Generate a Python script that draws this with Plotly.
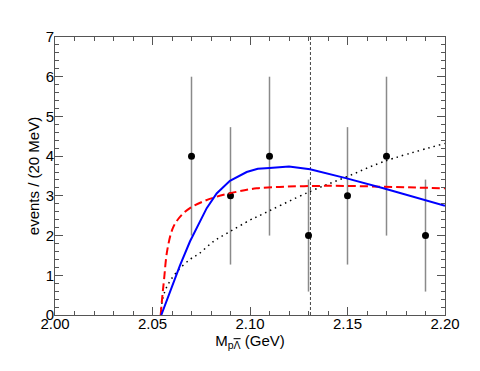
import plotly.graph_objects as go

# Data points (bin centers, counts, errors)
mass = [2.07, 2.09, 2.11, 2.13, 2.15, 2.17, 2.19]
counts = [4, 3, 4, 2, 3, 4, 2]
errors = [2.0, 1.73, 2.0, 1.41, 1.73, 2.0, 1.41]

# Red dashed curve
red_x = [2.0542, 2.0550, 2.0559, 2.0576, 2.0607, 2.0650, 2.0692, 2.0760, 2.083, 2.093, 2.1034, 2.118, 2.1342, 2.150, 2.1684, 2.185, 2.2]
red_y = [0.0, 0.45, 0.88, 1.64, 2.22, 2.52, 2.69, 2.86, 2.98, 3.10, 3.19, 3.23, 3.25, 3.25, 3.23, 3.21, 3.19]

# Blue solid curve
blue_x = [2.0545, 2.059, 2.0641, 2.0692, 2.0778, 2.0829, 2.0897, 2.0983, 2.104, 2.110, 2.120, 2.1308, 2.1496, 2.1684, 2.1897, 2.2]
blue_y = [0.0, 0.60, 1.25, 1.85, 2.69, 3.06, 3.38, 3.60, 3.68, 3.70, 3.74, 3.67, 3.44, 3.19, 2.90, 2.75]

# Black dotted curve
dot_x = [2.0542, 2.0550, 2.0573, 2.0624, 2.0692, 2.0735, 2.0812, 2.0897, 2.1, 2.1043, 2.1308, 2.1496, 2.1684, 2.2]
dot_y = [0.0, 0.35, 0.71, 1.08, 1.40, 1.53, 1.85, 2.10, 2.39, 2.49, 3.11, 3.48, 3.86, 4.32]

# Vertical reference line
line_x = 2.131
y_range = [0, 7]
x_range = [2.0, 2.2]
x_ticks = [2.00, 2.05, 2.10, 2.15, 2.20]
x_ticklabels = ["2.00", "2.05", "2.10", "2.15", "2.20"]
y_ticks = [0, 1, 2, 3, 4, 5, 6, 7]

fig = go.Figure()

fig.add_trace(go.Scatter(
    x=[line_x, line_x], y=y_range, mode="lines",
    line=dict(color="#444444", width=1, dash="3px,2px"), hoverinfo="skip"))

fig.add_trace(go.Scatter(
    x=mass, y=counts, mode="markers",
    marker=dict(color="black", size=7),
    error_y=dict(type="data", array=errors, color="#8a8a8a", thickness=1.5, width=0)))

fig.add_trace(go.Scatter(
    x=dot_x, y=dot_y, mode="lines", line_shape="spline",
    line=dict(color="black", width=1.5, dash="1.5px,4px")))

fig.add_trace(go.Scatter(
    x=red_x, y=red_y, mode="lines", line_shape="spline",
    line=dict(color="#ff0000", width=2, dash="8px,4px")))

fig.add_trace(go.Scatter(
    x=blue_x, y=blue_y, mode="lines",
    line=dict(color="#0000ff", width=2)))

font = "Liberation Sans, Arial, sans-serif"
fig.update_layout(
    width=472, height=363,
    margin=dict(l=47, r=35, t=29, b=56, autoexpand=False),
    paper_bgcolor="white", plot_bgcolor="white",
    showlegend=False,
    font=dict(family=font, size=15, color="black"),
    xaxis=dict(
        range=x_range, tickmode="array", tickvals=x_ticks, ticktext=x_ticklabels,
        ticks="inside", ticklen=8, tickcolor="#555555", tickwidth=1,
        minor=dict(dtick=0.01, ticks="inside", ticklen=4, tickcolor="#555555", tickwidth=1),
        showline=True, linecolor="#555555", linewidth=1, mirror="ticks",
        showgrid=False, zeroline=False, automargin=False,
        ticklabelstandoff=-5,
        title=dict(text="M<sub>p<span style='text-decoration:overline'>Λ</span></sub> (GeV)", standoff=0, font=dict(size=15)),
        tickfont=dict(size=15)),
    yaxis=dict(
        range=y_range, tickvals=y_ticks,
        ticks="inside", ticklen=8, tickcolor="#555555", tickwidth=1,
        minor=dict(dtick=0.2, ticks="inside", ticklen=4, tickcolor="#555555", tickwidth=1),
        showline=True, linecolor="#555555", linewidth=1, mirror="ticks",
        showgrid=False, zeroline=False, automargin=False,
        ticklabelstandoff=-3,
        title=dict(text="events / (20 MeV)", standoff=2, font=dict(size=15)),
        tickfont=dict(size=15)),
)

fig.write_html("out.html")
